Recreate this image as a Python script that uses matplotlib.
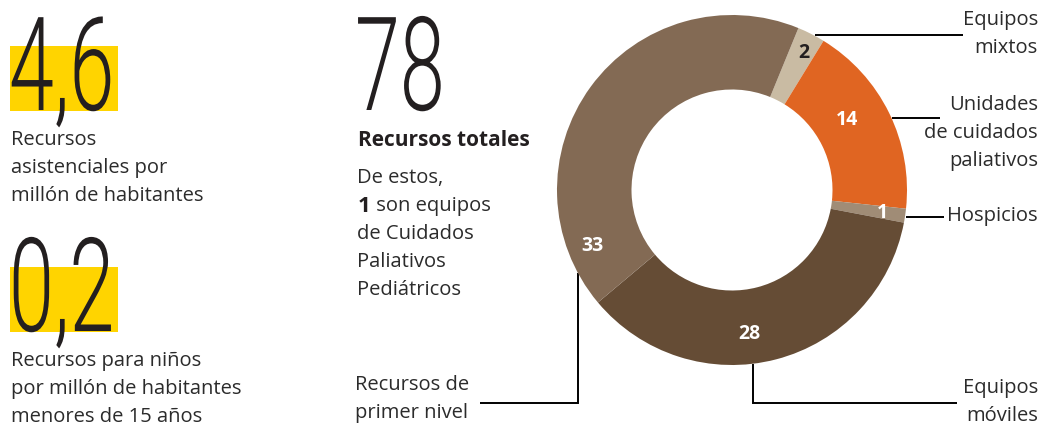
import matplotlib
matplotlib.use("Agg")
import matplotlib.pyplot as plt
from matplotlib.patches import Rectangle
from matplotlib.patheffects import AbstractPathEffect
from matplotlib.transforms import Affine2D
import numpy as np

# ---- headline figures -------------------------------------------------
rate_all = "4,6"
rate_all_caption = ["Recursos", "asistenciales por", "millón de habitantes"]
rate_children = "0,2"
rate_children_caption = ["Recursos para niños", "por millón de habitantes", "menores de 15 años"]
total_resources = 78
pediatric_teams = 1

# ---- resource breakdown (clockwise from the top) ------------------------
segment_values = [2, 14, 1, 28, 33]
segment_labels = [
    ["Equipos", "mixtos"],
    ["Unidades", "de cuidados", "paliativos"],
    ["Hospicios"],
    ["Equipos", "móviles"],
    ["Recursos de", "primer nivel"],
]
segment_colors = ["#C9BBA3", "#E06522", "#A08C76", "#654C35", "#836A54"]
value_colors = ["#231F20", "white", "white", "white", "white"]

# ---- styling ----------------------------------------------------------
W, H = 1042, 426
BODY = ["Open Sans", "DejaVu Sans"]
BIG = ["Roboto", "DejaVu Sans"]
TXT = "#2b2b2b"
INK = "#231F20"
YELLOW = "#FFD400"
BODY_SIZE = 14.5
BIG_SIZE = 94
LINE = 28


class Condense(AbstractPathEffect):
    """Squeeze glyph outlines horizontally about the text's left edge."""

    def __init__(self, sx):
        super().__init__()
        self.sx = sx

    def draw_path(self, renderer, gc, tpath, affine, rgbFace=None):
        x0 = affine.get_matrix()[0, 2]
        squeeze = Affine2D().translate(-x0, 0).scale(self.sx, 1).translate(x0, 0)
        renderer.draw_path(gc, tpath, affine + squeeze, rgbFace)


fig = plt.figure(figsize=(W / 100, H / 100), dpi=100)
ax = fig.add_axes([0, 0, 1, 1])
ax.set_xlim(0, W)
ax.set_ylim(H, 0)
ax.axis("off")

# donut geometry in pixels
cx, cy, R, r_in = 732, 190, 175, 100.5
ax_pie = fig.add_axes([(cx - R) / W, (H - cy - R) / H, 2 * R / W, 2 * R / H])
ax_pie.set_zorder(2)
ax_pie.patch.set_alpha(0)
wedges, _ = ax_pie.pie(
    segment_values, colors=segment_colors, startangle=67.7, counterclock=False,
    radius=1, wedgeprops=dict(width=1 - r_in / R, linewidth=0),
)
ax_pie.set_xlim(-1, 1)
ax_pie.set_ylim(-1, 1)
ax_pie.axis("off")


def pie_px(angle_deg, rad):
    a = np.deg2rad(angle_deg)
    pt = ax_pie.transData.transform((rad * np.cos(a), rad * np.sin(a)))
    return ax.transData.inverted().transform(pt)


def wedge_angle(w, frac):
    # position measured clockwise from the wedge's leading edge
    return w.theta2 - frac * (w.theta2 - w.theta1)


def lines_of_text(x, y0, lines, ha="left", **kw):
    for i, s in enumerate(lines):
        ax.text(x, y0 + i * LINE, s, ha=ha, va="center", family=BODY,
                fontsize=BODY_SIZE, color=TXT, **kw)


def big_number(x, y, s):
    ax.text(x, y, s, ha="left", va="baseline", family=BIG, fontsize=BIG_SIZE,
            weight=300, color=INK, zorder=1, path_effects=[Condense(0.62)])


# ---- left column: two headline rates --------------------------------
for (val, cap, top) in [(rate_all, rate_all_caption, 0), (rate_children, rate_children_caption, 221)]:
    ax.add_patch(Rectangle((10, 46 + top), 108, 65, color=YELLOW, lw=0, zorder=0))
    big_number(9, 110 + top, val)
    lines_of_text(11, 140 + top, cap)

# ---- centre column: total -------------------------------------------
big_number(355, 110, str(total_resources))
ax.text(358, 140, "Recursos totales", ha="left", va="center", family=BODY,
        fontsize=15, weight="bold", color=INK)
lines_of_text(357, 178, ["De estos,"])
t1 = ax.text(358, 206, str(pediatric_teams), ha="left", va="center", family=BODY,
             fontsize=16, weight="bold", color=INK)
renderer = fig.canvas.get_renderer()
bb = t1.get_window_extent(renderer).transformed(ax.transData.inverted())
lines_of_text(bb.x1, 206, [" son equipos"])
lines_of_text(357, 234, ["de Cuidados", "Paliativos", "Pediátricos"])

# ---- values inside the ring ------------------------------------------
label_frac = [0.59, 0.42, 0.57, 0.56, 0.12]
label_rad = [0.886, 0.77, 0.87, 0.83, 0.857]
for w, v, f, rr, c in zip(wedges, segment_values, label_frac, label_rad, value_colors):
    a = np.deg2rad(wedge_angle(w, f))
    ax_pie.text(rr * np.cos(a), rr * np.sin(a), str(v), ha="center", va="center",
                family=BODY, fontsize=14, weight="bold", color=c)

# ---- leader lines and outer labels -----------------------------------
anchor_frac = [0.62, 0.53, 0.6, 0.56, 0.076]
LW = 1.4
RIGHT = 1038

# Equipos mixtos
x0, y0 = pie_px(wedge_angle(wedges[0], anchor_frac[0]), 1.005)
ax.plot([x0, 963], [y0, y0], color="black", lw=LW, solid_capstyle="butt")
lines_of_text(RIGHT, 20, segment_labels[0], ha="right")

# Unidades de cuidados paliativos
x0, y0 = pie_px(wedge_angle(wedges[1], anchor_frac[1]), 1.005)
ax.plot([x0, 940], [y0, y0], color="black", lw=LW, solid_capstyle="butt")
lines_of_text(RIGHT, 105, segment_labels[1], ha="right")

# Hospicios
x0, y0 = pie_px(wedge_angle(wedges[2], anchor_frac[2]), 1.005)
ax.plot([x0, 944], [y0, y0], color="black", lw=LW, solid_capstyle="butt")
lines_of_text(RIGHT, 216, segment_labels[2], ha="right")

# Equipos móviles
x0, y0 = pie_px(wedge_angle(wedges[3], anchor_frac[3]), 1.0)
ax.plot([x0, x0, 957], [y0, 403, 403], color="black", lw=LW,
        solid_joinstyle="miter", solid_capstyle="butt")
lines_of_text(RIGHT, 388, segment_labels[3], ha="right")

# Recursos de primer nivel
x0, y0 = pie_px(wedge_angle(wedges[4], anchor_frac[4]), 1.0)
ax.plot([x0, x0, 480], [y0, 403, 403], color="black", lw=LW,
        solid_joinstyle="miter", solid_capstyle="butt")
lines_of_text(355, 385, segment_labels[4])

fig.savefig("out.png", dpi=100, facecolor="white")
